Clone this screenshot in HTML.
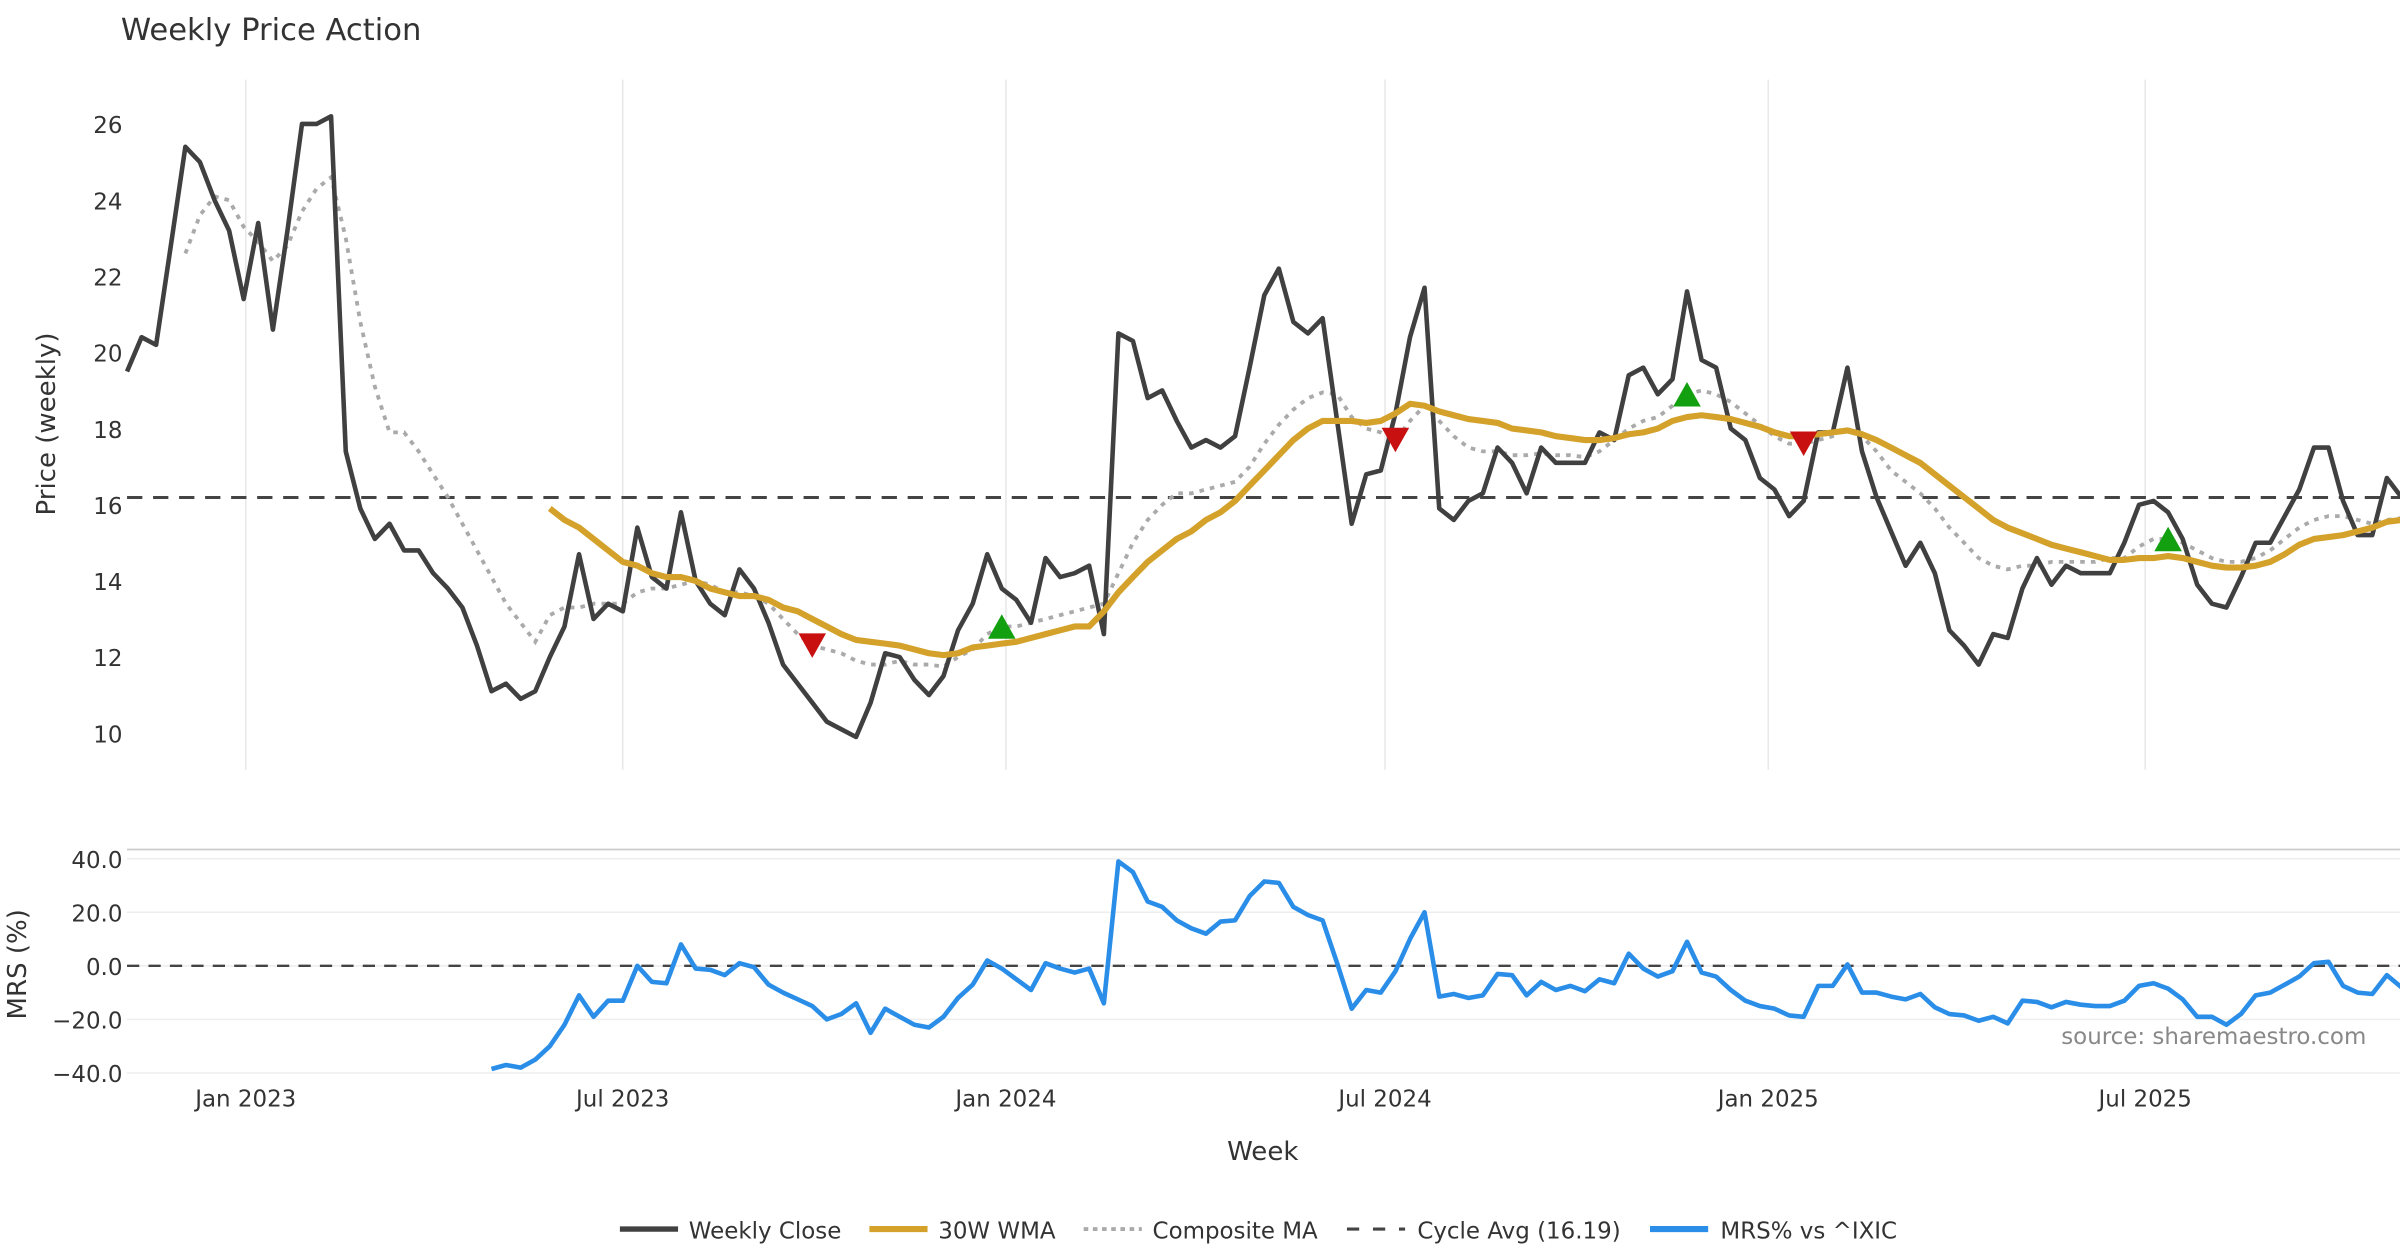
<!DOCTYPE html>
<html><head><meta charset="utf-8"><style>
html,body{margin:0;padding:0;background:#fff;}
svg{display:block;font-family:"DejaVu Sans","Liberation Sans",sans-serif;}
</style></head><body>
<svg id="chart" width="2400" height="1260" viewBox="0 0 1568 823.2" xmlns="http://www.w3.org/2000/svg">
<rect width="1568" height="823.2" fill="#fff"/>
<text x="79" y="26" font-size="20" fill="#333">Weekly Price Action</text>
<g id="grid"></g>
<g id="axes"></g>
<g id="series"></g>
<text transform="translate(36,277) rotate(-90)" text-anchor="middle" font-size="17" fill="#333">Price (weekly)</text>
<text transform="translate(17,630) rotate(-90)" text-anchor="middle" font-size="17" fill="#333">MRS (%)</text>
<text x="825" y="758" text-anchor="middle" font-size="17" fill="#333">Week</text>
<text x="1546" y="682" text-anchor="end" font-size="15" fill="#888">source: sharemaestro.com</text>
<g id="legend"></g>
</svg>
<script>
const startDate = "2022-11-05";
const closeVals = [19.5,20.4,20.2,22.8,25.4,25.0,24.0,23.2,21.4,23.4,20.6,23.2,26.0,26.0,26.2,17.4,15.9,15.1,15.5,14.8,14.8,14.2,13.8,13.3,12.3,11.1,11.3,10.9,11.1,12.0,12.8,14.7,13.0,13.4,13.2,15.4,14.1,13.8,15.8,14.0,13.4,13.1,14.3,13.8,12.9,11.8,11.3,10.8,10.3,10.1,9.9,10.8,12.1,12.0,11.4,11.0,11.5,12.7,13.4,14.7,13.8,13.5,12.9,14.6,14.1,14.2,14.4,12.6,20.5,20.3,18.8,19.0,18.2,17.5,17.7,17.5,17.8,19.6,21.5,22.2,20.8,20.5,20.9,18.2,15.5,16.8,16.9,18.4,20.4,21.7,15.9,15.6,16.1,16.3,17.5,17.1,16.3,17.5,17.1,17.1,17.1,17.9,17.7,19.4,19.6,18.9,19.3,21.6,19.8,19.6,18.0,17.7,16.7,16.4,15.7,16.1,17.9,17.9,19.6,17.4,16.2,15.3,14.4,15.0,14.2,12.7,12.3,11.8,12.6,12.5,13.8,14.6,13.9,14.4,14.2,14.2,14.2,15.0,16.0,16.1,15.8,15.1,13.9,13.4,13.3,14.1,15.0,15.0,15.7,16.4,17.5,17.5,16.1,15.2,15.2,16.7,16.2];
const wmaStart = 29;
const wmaVals = [15.9,15.6,15.4,15.1,14.8,14.5,14.4,14.2,14.1,14.1,14.0,13.8,13.7,13.6,13.6,13.5,13.3,13.2,13.0,12.8,12.6,12.45,12.4,12.35,12.3,12.2,12.1,12.05,12.1,12.25,12.3,12.35,12.4,12.5,12.6,12.7,12.8,12.8,13.2,13.7,14.1,14.5,14.8,15.1,15.3,15.6,15.8,16.1,16.5,16.9,17.3,17.7,18.0,18.2,18.2,18.2,18.15,18.2,18.4,18.65,18.6,18.45,18.35,18.25,18.2,18.15,18.0,17.95,17.9,17.8,17.75,17.7,17.7,17.75,17.85,17.9,18.0,18.2,18.3,18.35,18.3,18.25,18.15,18.05,17.9,17.8,17.8,17.85,17.9,17.95,17.85,17.7,17.5,17.3,17.1,16.8,16.5,16.2,15.9,15.6,15.4,15.25,15.1,14.95,14.85,14.75,14.65,14.55,14.55,14.6,14.6,14.65,14.6,14.5,14.4,14.35,14.35,14.4,14.5,14.7,14.95,15.1,15.15,15.2,15.3,15.4,15.55,15.6];
const compStart = 4;
const compVals = [22.6,23.6,24.1,24.0,23.3,22.9,22.4,22.8,23.7,24.3,24.6,23.0,20.8,19.1,17.9,17.9,17.4,16.8,16.2,15.5,14.8,14.1,13.4,12.9,12.4,13.1,13.3,13.3,13.4,13.4,13.4,13.7,13.8,13.8,13.9,14.0,13.9,13.7,13.7,13.6,13.4,13.0,12.6,12.3,12.2,12.1,11.9,11.8,11.8,11.9,11.8,11.8,11.75,12.0,12.2,12.6,12.8,12.8,12.9,13.0,13.1,13.2,13.3,13.4,14.2,15.0,15.6,16.0,16.3,16.3,16.4,16.5,16.6,17.0,17.6,18.1,18.5,18.8,18.95,18.9,18.3,18.0,17.9,17.7,18.2,18.6,18.2,17.8,17.5,17.4,17.4,17.3,17.3,17.35,17.3,17.3,17.25,17.4,17.7,18.0,18.2,18.3,18.6,18.9,19.0,18.9,18.7,18.4,18.1,17.8,17.6,17.6,17.7,17.8,18.0,17.8,17.4,16.9,16.6,16.3,15.9,15.4,15.0,14.6,14.4,14.3,14.4,14.4,14.5,14.5,14.5,14.5,14.6,14.6,14.9,15.1,15.1,15.0,14.8,14.6,14.5,14.5,14.6,14.8,15.1,15.4,15.6,15.7,15.7,15.6,15.5,15.6,15.65];
const mrsStart = 25;
const mrsVals = [-38.5,-37,-38,-35,-30,-22,-11,-19,-13,-13,0,-6,-6.5,8,-1,-1.5,-3.5,1,-0.5,-7,-10,-12.5,-15,-20,-18,-14,-25,-16,-19,-22,-23,-19,-12,-7,2,-1,-5,-9,1,-1,-2.5,-1,-14,39,35,24,22,17,14,12,16.5,17,26,31.5,31,22,19,17,1,-16,-9,-10,-2,10,20,-11.5,-10.5,-12,-11,-3,-3.5,-11,-6,-9,-7.5,-9.5,-5,-6.5,4.5,-1,-4,-2,9,-2.5,-4,-9,-13,-15,-16,-18.5,-19,-7.5,-7.5,0.5,-10,-10,-11.5,-12.5,-10.5,-15.5,-18,-18.5,-20.5,-19,-21.5,-13,-13.5,-15.5,-13.5,-14.5,-15,-15,-13,-7.5,-6.5,-8.5,-12.5,-19,-19,-22,-18,-11,-10,-7,-4,1,1.5,-7.5,-10,-10.5,-3.5,-8];
const cycleAvg = 16.19;
const buyIdx = [60,107,140];
const sellIdx = [47,87,115];
const priceTicks = [10,12,14,16,18,20,22,24,26];
const mrsTicks = [40,20,0,-20,-40];
const dateTicks = ["2023-01-01","2023-07-01","2024-01-01","2024-07-01","2025-01-01","2025-07-01"];
const dateTickLabels = ["Jan 2023","Jul 2023","Jan 2024","Jul 2024","Jan 2025","Jul 2025"];

const NS="http://www.w3.org/2000/svg";
const X0=83, WK=9.525;
const t0=new Date(startDate+"T00:00:00Z").getTime();
function xIdx(i){return X0+i*WK;}
function xDate(d){return X0+((new Date(d+"T00:00:00Z").getTime()-t0)/864e5)/7*WK;}
function yP(v){return 479-(v-10)*24.875;}
function yM(v){return 631-v*1.75;}
function mk(tag,attrs,parent){const e=document.createElementNS(NS,tag);for(const k in attrs)e.setAttribute(k,attrs[k]);parent.appendChild(e);return e;}
const grid=document.getElementById('grid'),axes=document.getElementById('axes'),ser=document.getElementById('series'),leg=document.getElementById('legend');

dateTicks.forEach((d,k)=>{
  const x=xDate(d);
  const g=mk('line',{x1:x,x2:x,y1:52,y2:503,stroke:'#e8e8e8','stroke-width':1},grid);
  
  
  const t=mk('text',{x:x,y:723,'text-anchor':'middle','font-size':15,fill:'#333'},axes);
  t.textContent=dateTickLabels[k];
  
  
});
priceTicks.forEach(v=>{
  const t=mk('text',{x:80,y:yP(v)+6,'text-anchor':'end','font-size':15,fill:'#333'},axes);
  t.textContent=v;
  
  
});
const topLine=mk('line',{x1:83,x2:1568,y1:555,y2:555,stroke:'#ccc','stroke-width':1.2},grid);


mrsTicks.forEach(v=>{
  const g=mk('line',{x1:83,x2:1568,y1:yM(v),y2:yM(v),stroke:'#eee','stroke-width':1},grid);
  
  
  const t=mk('text',{x:80,y:yM(v)+6,'text-anchor':'end','font-size':15,fill:'#333'},axes);
  t.textContent=(v<0?'\u2212':'')+Math.abs(v).toFixed(1);
  
  
});
function pathFrom(vals,start,yf){return vals.map((v,i)=>(i?'L':'M')+xIdx(start+i).toFixed(1)+','+yf(v).toFixed(1)).join('');}

const cyc=mk('line',{x1:83,x2:1568,y1:yP(cycleAvg),y2:yP(cycleAvg),stroke:'#444','stroke-width':2,'stroke-dasharray':'10,7'},ser);


const comp=mk('path',{d:pathFrom(compVals,compStart,yP),fill:'none',stroke:'#aaa','stroke-width':2.5,'stroke-dasharray':'3,4'},ser);


const cl=mk('path',{d:pathFrom(closeVals,0,yP),fill:'none',stroke:'#404040','stroke-width':3,'stroke-linejoin':'round'},ser);


const wma=mk('path',{d:pathFrom(wmaVals,wmaStart,yP),fill:'none',stroke:'#d4a22a','stroke-width':4,'stroke-linejoin':'round'},ser);


buyIdx.forEach(i=>{
  const x=xIdx(i),y=yP(compVals[i-compStart]);
  const p=mk('polygon',{points:`${x-9},${y+8} ${x+9},${y+8} ${x},${y-8}`,fill:'#13a010'},ser);
  
  
});
sellIdx.forEach(i=>{
  const x=xIdx(i),y=yP(compVals[i-compStart]);
  const p=mk('polygon',{points:`${x-9},${y-8} ${x+9},${y-8} ${x},${y+8}`,fill:'#c81010'},ser);
  
  
});
const zero=mk('line',{x1:83,x2:1568,y1:yM(0),y2:yM(0),stroke:'#444','stroke-width':1.6,'stroke-dasharray':'8,6'},ser);


const mrs=mk('path',{d:pathFrom(mrsVals,mrsStart,yM),fill:'none',stroke:'#2a8ee8','stroke-width':3,'stroke-linejoin':'round'},ser);



const legItems=[
 {x:405,tx:450,label:'Weekly Close',stroke:'#404040',w:3.5,dash:''},
 {x:568,tx:613,label:'30W WMA',stroke:'#d4a22a',w:4,dash:''},
 {x:708,tx:753,label:'Composite MA',stroke:'#aaa',w:2.5,dash:'3,3'},
 {x:880,tx:926,label:'Cycle Avg (16.19)',stroke:'#444',w:2,dash:'8,9'},
 {x:1078,tx:1124,label:'MRS% vs ^IXIC',stroke:'#2a8ee8',w:4,dash:''}
];
legItems.forEach(it=>{
  const g=mk('g',{},leg);
  
  
  mk('line',{x1:it.x,x2:it.x+38,y1:803,y2:803,stroke:it.stroke,'stroke-width':it.w,'stroke-dasharray':it.dash},g);
  const t=mk('text',{x:it.tx,y:809,'font-size':15,fill:'#333'},g);
  t.textContent=it.label;
});
</script>
</body></html>
